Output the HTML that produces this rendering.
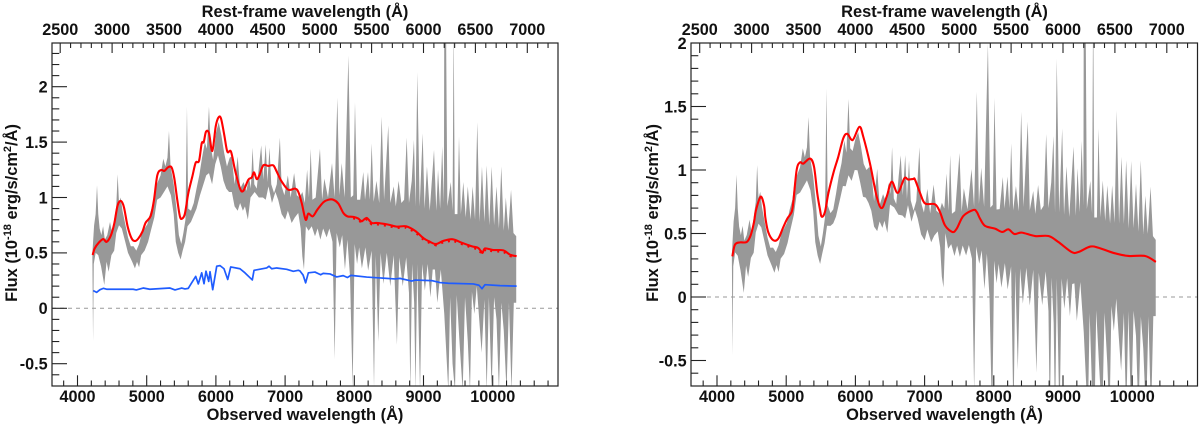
<!DOCTYPE html>
<html lang="en">
<head>
<meta charset="utf-8">
<title>Observed and rest-frame spectra</title>
<style>
html,body{margin:0;padding:0;background:#fff;width:1200px;height:425px;overflow:hidden}
svg{display:block}
text{font-family:"Liberation Sans",sans-serif;font-weight:bold;fill:#111}
.tl{font-size:16.2px}
.at{font-size:16.4px}
</style>
</head>
<body>
<svg id="figure" xmlns="http://www.w3.org/2000/svg" width="1200" height="425" viewBox="0 0 1200 425">
  <defs>
    <clipPath id="clip-left"><rect x="52" y="43" width="506" height="343"/></clipPath>
    <clipPath id="clip-right"><rect x="691" y="43" width="506.5" height="343"/></clipPath>
  </defs>
  <g id="panel-left"></g>
  <g id="panel-right"></g>

  <text class="at" x="305" y="17" text-anchor="middle">Rest-frame wavelength (Å)</text>
  <text class="at" x="305" y="420" text-anchor="middle">Observed wavelength (Å)</text>
  <text class="at" transform="translate(17,213) rotate(-90)" text-anchor="middle">Flux (10<tspan font-size="11" dy="-6">-18</tspan><tspan dy="6"> erg/s/cm</tspan><tspan font-size="11" dy="-6">2</tspan><tspan dy="6">/Å)</tspan></text>

  <text class="at" x="944.5" y="17" text-anchor="middle">Rest-frame wavelength (Å)</text>
  <text class="at" x="944.5" y="420" text-anchor="middle">Observed wavelength (Å)</text>
  <text class="at" transform="translate(658,213) rotate(-90)" text-anchor="middle">Flux (10<tspan font-size="11" dy="-6">-18</tspan><tspan dy="6"> erg/s/cm</tspan><tspan font-size="11" dy="-6">2</tspan><tspan dy="6">/Å)</tspan></text>
</svg>
<script>
// Observed-wavelength tick labels
const obsTicks = [4000, 5000, 6000, 7000, 8000, 9000, 10000];
// Rest-frame tick labels
const restTicks = [2500, 3000, 3500, 4000, 4500, 5000, 5500, 6000, 6500, 7000];
const leftFluxTicks = ["-0.5", "0", "0.5", "1", "1.5", "2"];
const rightFluxTicks = ["-0.5", "0", "0.5", "1", "1.5", "2"];
const redshift = 0.5;

// Upper edge of the grey error band
const upperWave = [4215,4240,4262,4282,4300,4320,4345,4370,4395,4430,4470,4500,4535,4560,4580,4600,4625,4650,4690,4730,
4770,4810,4850,4890,4930,4970,5010,5050,5090,5120,5160,5200,5240,5270,5300,5322,5345,5390,5430,5465,
5500,5530,5560,5582,5600,5640,5680,5720,5760,5800,5840,5870,5900,5925,5960,6000,6040,6080,6120,6160,
6200,6228,6270,6315,6350,6400,6440,6480,6505,6530,6555,6590,6625,6655,6685,6720,6745,6775,6800,6840,
6880,6925,6950,6990,7040,7080,7130,7170,7210,7250,7285,7318,7345,7370,7395,7442,7504,7535,7567,7620,
7678,7715,7755,7785,7818,7860,7915,7950,7985,8010,8040,8085,8130,8155,8198,8225,8251,8280,8320,8360,
8396,8430,8491,8520,8570,8600,8640,8680,8720,8757,8790,8830,8862,8885,8910,8945,8988,9015,9050,9090,
9152,9185,9210,9240,9270,9295,9300,9325,9345,9395,9420,9436,9452,9490,9513,9540,9575,9610,9640,9680,
9710,9745,9777,9810,9845,9880,9913,9950,9985,10020,10055,10090,10124,10160,10190,10225,10265,10300,10340];
const upperFlux = [0.5,0.75,0.85,1.11,0.85,0.72,0.66,0.74,0.62,0.66,0.78,0.68,0.82,0.92,1.21,0.95,1.0,0.88,0.76,0.64,
0.56,0.56,0.52,0.58,0.68,0.72,0.76,0.86,0.94,1.08,1.14,1.2,1.35,1.28,1.36,1.6,1.28,1.12,0.9,0.66,
0.58,0.68,0.8,1.82,0.9,0.88,0.95,1.08,1.2,1.36,1.5,1.44,1.82,1.46,1.34,1.58,1.68,1.56,1.4,1.28,
1.36,1.37,1.12,1.37,1.08,1.14,1.06,1.18,1.08,1.45,1.12,1.08,1.3,1.47,1.16,1.48,1.14,1.45,1.12,1.04,
1.12,1.54,1.1,1.02,1.2,1.0,1.22,1.02,1.0,1.05,0.95,1.25,1.0,1.44,0.98,1.0,1.44,0.98,1.17,1.0,
1.31,1.0,1.9,1.02,1.31,1.0,2.28,1.0,1.02,1.86,0.98,0.98,1.23,0.98,1.23,0.98,1.49,0.96,1.15,0.95,
1.73,0.98,1.65,0.95,1.1,0.92,1.15,0.95,0.98,1.54,0.95,1.15,1.52,0.92,2.13,0.92,1.58,0.9,1.28,0.88,
1.43,0.88,1.25,0.9,1.46,0.95,2.6,2.6,0.92,1.14,0.88,2.6,0.85,0.85,1.55,0.85,1.14,0.82,1.1,0.8,
1.1,0.8,1.68,0.78,1.28,0.78,1.29,0.75,1.28,0.75,1.1,0.72,1.28,0.7,1.0,0.7,1.07,0.68,0.65];

// Lower edge of the grey error band
const lowerWave = [4215,4225,4235,4262,4300,4340,4387,4420,4450,4490,4530,4560,4600,4640,4690,4730,4790,4830,4860,4890,
4920,4970,5020,5060,5110,5150,5200,5250,5300,5350,5390,5420,5455,5490,5520,5555,5590,5640,5680,5720,
5770,5820,5860,5900,5945,5990,6030,6070,6110,6150,6190,6230,6270,6315,6350,6390,6420,6462,6500,6560,
6620,6680,6720,6760,6810,6860,6900,6950,7000,7040,7095,7140,7190,7225,7249,7273,7300,7340,7385,7432,
7470,7510,7550,7600,7640,7685,7716,7745,7790,7825,7865,7900,7938,7976,8005,8040,8070,8110,8160,8200,
8250,8285,8310,8347,8380,8420,8470,8520,8570,8616,8650,8700,8750,8790,8810,8835,8865,8885,8910,8950,
8980,9020,9060,9100,9133,9165,9200,9250,9300,9359,9385,9420,9455,9480,9520,9566,9600,9640,9672,9700,
9735,9770,9805,9840,9880,9913,9945,9985,10020,10055,10090,10125,10160,10200,10235,10272,10305,10340];
const lowerFlux = [0.45,-0.3,0.4,0.5,0.48,0.38,0.21,0.42,0.33,0.48,0.52,0.68,0.75,0.72,0.6,0.5,0.42,0.36,0.42,0.37,
0.48,0.52,0.6,0.7,0.82,0.98,1.0,1.05,1.1,1.02,0.85,0.6,0.5,0.44,0.52,0.6,0.74,0.78,0.84,0.9,
1.02,1.12,1.2,1.22,1.12,1.3,1.38,1.28,1.15,1.08,1.05,1.05,0.92,0.88,0.95,0.88,0.92,0.8,1.0,1.05,
1.0,1.0,0.98,1.1,0.95,1.05,0.98,0.85,0.8,0.88,0.77,0.82,0.86,0.72,0.47,0.35,0.74,0.7,0.74,0.65,
0.72,0.62,0.72,0.64,0.72,0.6,-0.46,0.68,0.55,0.66,0.35,0.62,0.29,-0.72,0.58,0.4,0.55,0.36,0.55,0.34,
0.52,-0.72,0.48,-0.3,0.5,0.22,0.5,0.2,0.48,-0.33,0.46,0.2,0.46,0.14,-0.75,0.4,0.05,-0.75,0.4,-0.75,
0.4,0.16,0.4,0.1,0.35,0.35,0.05,0.35,-0.05,-0.75,0.1,-0.5,-0.75,0.12,-0.3,-0.75,0.1,-0.3,-0.75,0.15,
-0.05,0.2,-0.1,-0.4,0.08,-0.75,0.1,-0.75,0.1,-0.1,-0.75,0.05,-0.2,-0.75,0.05,-0.75,0.05,0.05];

// Total model, left panel
const leftRedWave = [4219,4248,4311,4373,4421,4484,4532,4580,4629,4672,4725,4783,4831,4879,4937,4985,5057,5105,5153,5207,
5255,5313,5361,5399,5442,5481,5514,5553,5601,5659,5708,5756,5795,5824,5857,5900,5948,5997,6035,6073,
6121,6165,6218,6276,6348,6396,6468,6517,6551,6589,6628,6685,6757,6829,6877,6950,7046,7143,7191,7240,
7297,7336,7399,7466,7553,7625,7697,7770,7842,7900,7986,8058,8106,8179,8251,8324,8491,8613,8747,8877,
8997,9094,9180,9286,9422,9552,9696,9792,9850,9889,10009,10153,10250,10346];
const leftRedFlux = [0.48,0.54,0.595,0.625,0.6,0.66,0.767,0.93,0.968,0.91,0.737,0.63,0.607,0.63,0.69,0.773,0.833,0.977,1.2,1.248,
1.24,1.275,1.27,1.173,0.977,0.827,0.81,0.857,1.038,1.188,1.314,1.33,1.49,1.5,1.594,1.58,1.42,1.64,1.72,1.715,
1.564,1.414,1.414,1.248,1.083,1.06,1.16,1.18,1.227,1.166,1.2,1.29,1.285,1.29,1.236,1.145,1.07,1.08,1.05,0.95,
0.8,0.855,0.83,0.89,0.957,0.98,0.98,0.945,0.86,0.83,0.825,0.81,0.785,0.815,0.77,0.77,0.755,0.737,0.74,0.7,
0.634,0.6,0.58,0.608,0.623,0.592,0.56,0.544,0.5,0.54,0.526,0.523,0.484,0.47];

// Host component, left panel
const hostWave = [4228,4277,4325,4373,4420,4804,4850,4949,5045,5337,5409,5506,5553,5601,5650,5708,5746,5795,5828,5857,
5896,5915,5954,6012,6060,6117,6171,6214,6348,6420,6526,6551,6734,6768,6806,6878,7023,7119,7191,7215,
7260,7297,7336,7432,7514,7550,7649,7745,7840,7900,7952,8179,8588,8660,8829,8880,9118,9238,9358,9720,
9802,9845,9889,10105,10346];
const hostFlux = [0.16,0.144,0.168,0.18,0.172,0.172,0.166,0.183,0.172,0.183,0.166,0.183,0.175,0.18,0.23,0.288,0.22,0.32,0.222,0.335,
0.243,0.33,0.168,0.38,0.385,0.357,0.26,0.373,0.357,0.32,0.256,0.343,0.364,0.38,0.357,0.364,0.352,0.334,0.343,0.337,
0.3,0.23,0.32,0.327,0.303,0.315,0.31,0.283,0.295,0.278,0.297,0.282,0.265,0.27,0.246,0.255,0.25,0.232,0.226,0.22,
0.208,0.177,0.213,0.205,0.2];

// Host-subtracted model, right panel
const rightRedWave = [4222,4260,4332,4429,4487,4535,4564,4631,4680,4700,4741,4814,4886,4958,5016,5079,5103,5151,5199,5247,
5344,5402,5449,5488,5513,5560,5609,5681,5753,5825,5883,5961,6057,6114,6211,6308,6380,6452,6525,6611,
6707,6763,6837,6861,6934,7006,7150,7222,7295,7401,7464,7560,7704,7753,7801,7874,8017,8123,8210,8298,
8404,8597,8790,8933,9126,9222,9393,9513,9730,9946,10187,10342];
const rightRedFlux = [0.32,0.412,0.43,0.433,0.486,0.59,0.685,0.79,0.72,0.62,0.51,0.447,0.46,0.55,0.617,0.67,0.75,1.0,1.06,1.05,
1.09,1.026,0.816,0.69,0.632,0.67,0.816,0.975,1.105,1.25,1.285,1.236,1.34,1.262,1.05,0.79,0.7,0.79,0.908,0.82,
0.934,0.925,0.93,0.925,0.82,0.737,0.73,0.67,0.564,0.512,0.538,0.638,0.685,0.67,0.617,0.56,0.538,0.512,0.533,0.496,
0.507,0.48,0.48,0.433,0.354,0.354,0.397,0.388,0.347,0.323,0.323,0.276];

const NS = "http://www.w3.org/2000/svg";

function interp(wave, flux, w) {
  if (w <= wave[0]) return flux[0];
  for (let i = 1; i < wave.length; i++) {
    if (w <= wave[i]) {
      const t = (w - wave[i - 1]) / (wave[i] - wave[i - 1]);
      return flux[i - 1] + t * (flux[i] - flux[i - 1]);
    }
  }
  return flux[flux.length - 1];
}

function pathFrom(xs, ys, sx, sy) {
  let d = "";
  for (let i = 0; i < xs.length; i++) {
    d += (i ? "L" : "M") + sx(xs[i]).toFixed(2) + " " + sy(ys[i]).toFixed(2);
  }
  return d;
}

function smoothPath(xs, ys, sx, sy) {
  const px = xs.map(sx);
  const py = ys.map(sy);
  let d = "M" + px[0].toFixed(2) + " " + py[0].toFixed(2);
  for (let i = 0; i < px.length - 1; i++) {
    const a = Math.max(i - 1, 0);
    const b = Math.min(i + 2, px.length - 1);
    const c1x = px[i] + (px[i + 1] - px[a]) / 6;
    const c1y = py[i] + (py[i + 1] - py[a]) / 6;
    const c2x = px[i + 1] - (px[b] - px[i]) / 6;
    const c2y = py[i + 1] - (py[b] - py[i]) / 6;
    d += "C" + c1x.toFixed(2) + " " + c1y.toFixed(2) + " " + c2x.toFixed(2) + " " + c2y.toFixed(2) + " " + px[i + 1].toFixed(2) + " " + py[i + 1].toFixed(2);
  }
  return d;
}

function tickLine(parent, x1, y1, x2, y2) {
  const l = document.createElementNS(NS, "line");
  l.setAttribute("x1", x1);
  l.setAttribute("y1", y1);
  l.setAttribute("x2", x2);
  l.setAttribute("y2", y2);
  l.setAttribute("stroke", "#222");
  l.setAttribute("stroke-width", "1.1");
  
  
  parent.appendChild(l);
}

function label(parent, x, y, anchor, str) {
  const t = document.createElementNS(NS, "text");
  t.setAttribute("x", x);
  t.setAttribute("y", y);
  t.setAttribute("text-anchor", anchor);
  t.setAttribute("class", "tl");
  
  
  t.textContent = str;
  parent.appendChild(t);
}

function drawPanel(g, box, x4000, y0, pxPerUnit, clipId, yLabels, bandShift, redW, redF, isLeft) {
  const sx = w => x4000 + (w - 4000) * 0.0692;
  const sy = f => y0 - f * pxPerUnit;
  const sxRest = r => sx(r * (1 + redshift));
  const topFlux = (y0 - box.top) / pxPerUnit;
  const botFlux = (y0 - box.bottom) / pxPerUnit;

  const plot = document.createElementNS(NS, "g");
  plot.setAttribute("clip-path", "url(#" + clipId + ")");
  
  
  g.appendChild(plot);

  const zero = document.createElementNS(NS, "line");
  zero.setAttribute("x1", box.left);
  zero.setAttribute("x2", box.right);
  zero.setAttribute("y1", sy(0));
  zero.setAttribute("y2", sy(0));
  zero.setAttribute("stroke", "#999");
  zero.setAttribute("stroke-width", "1");
  zero.setAttribute("stroke-dasharray", "4 4");
  
  
  plot.appendChild(zero);

  const upY = upperFlux.map((f, i) => f - bandShift(upperWave[i]));
  const loY = lowerFlux.map((f, i) => f - bandShift(lowerWave[i]));
  const upPath = pathFrom(upperWave, upY, sx, sy);
  const loPath = pathFrom(lowerWave.slice().reverse(), loY.slice().reverse(), sx, sy).replace("M", "L");
  const band = document.createElementNS(NS, "path");
  band.setAttribute("d", upPath + loPath + "Z");
  band.setAttribute("fill", "#989898");
  
  
  plot.appendChild(band);

  if (isLeft) {
    const host = document.createElementNS(NS, "path");
    host.setAttribute("d", pathFrom(hostWave, hostFlux, sx, sy));
    host.setAttribute("fill", "none");
    host.setAttribute("stroke", "#1f5cff");
    host.setAttribute("stroke-width", "1.7");
    host.setAttribute("stroke-linejoin", "round");
    
    
    plot.appendChild(host);
  }

  const redLine = document.createElementNS(NS, "path");
  redLine.setAttribute("d", smoothPath(redW, redF, sx, sy));
  redLine.setAttribute("fill", "none");
  redLine.setAttribute("stroke", "#ff0000");
  redLine.setAttribute("stroke-width", "2.1");
  redLine.setAttribute("stroke-linejoin", "round");
  
  
  plot.appendChild(redLine);

  if (isLeft) {
    const jitter = document.createElementNS(NS, "path");
    jitter.setAttribute("d", pathFrom(redW.filter(w => w > 7900), redF.filter((f, i) => redW[i] > 7900), sx, sy));
    jitter.setAttribute("fill", "none");
    jitter.setAttribute("stroke", "#ff0000");
    jitter.setAttribute("stroke-width", "3.2");
    jitter.setAttribute("stroke-dasharray", "2 5");
    jitter.setAttribute("transform", "translate(0,0.8)");
    
    
    plot.appendChild(jitter);
  }

  const frame = document.createElementNS(NS, "rect");
  frame.setAttribute("x", box.left);
  frame.setAttribute("y", box.top);
  frame.setAttribute("width", box.right - box.left);
  frame.setAttribute("height", box.bottom - box.top);
  frame.setAttribute("fill", "none");
  frame.setAttribute("stroke", "#222");
  frame.setAttribute("stroke-width", "1.2");
  
  
  g.appendChild(frame);

  // bottom axis
  for (let w = 3800; w <= 10800; w += 200) {
    const major = w % 1000 === 0;
    tickLine(g, sx(w), box.bottom, sx(w), box.bottom - (major ? 10.7 : 5.5));
  }
  obsTicks.forEach(w => label(g, sx(w), 402, "middle", String(w)));

  // top axis
  for (let r = 2500; r <= 7200; r += 100) {
    const major = r % 500 === 0;
    tickLine(g, sxRest(r), box.top, sxRest(r), box.top + (major ? 10 : 5));
  }
  restTicks.forEach(r => label(g, sxRest(r), 35, "middle", String(r)));

  // left axis
  for (let k = -6; k / 10 < topFlux; k++) {
    const f = k / 10;
    if (f <= botFlux) continue;
    const major = k % 5 === 0;
    tickLine(g, box.left, sy(f), box.left + (major ? 15 : 7.3), sy(f));
  }
  yLabels.forEach(s => label(g, box.left - 4.3, sy(parseFloat(s)) + 5.8, "end", s));
}

const noShift = () => 0;
const hostShift = w => interp(hostWave, hostFlux, w);

drawPanel(document.getElementById("panel-left"),
  {left: 52, right: 558, top: 43, bottom: 386}, 77.5, 308.3, 110.8, "clip-left",
  leftFluxTicks, noShift, leftRedWave, leftRedFlux, true);

drawPanel(document.getElementById("panel-right"),
  {left: 691, right: 1197.5, top: 43, bottom: 386}, 717, 297, 127, "clip-right",
  rightFluxTicks, hostShift, rightRedWave, rightRedFlux, false);
</script>
</body>
</html>
